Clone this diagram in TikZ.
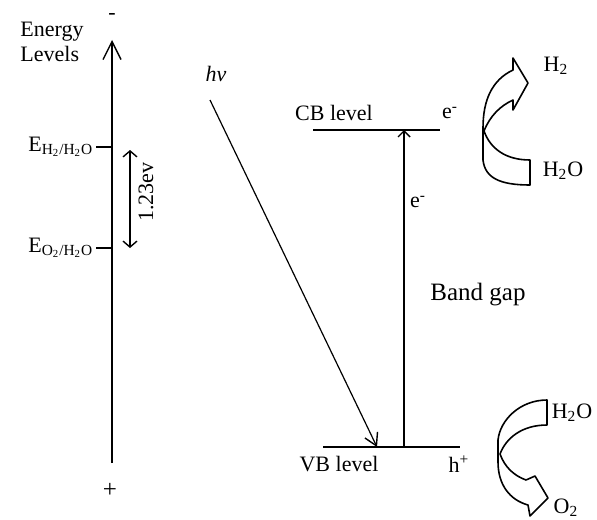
\documentclass[tikz,border=0pt]{standalone}
\usepackage{fontspec}
\setmainfont{Liberation Serif}
\usepackage{tikz}
\usetikzlibrary{arrows.meta,positioning}

\begin{document}
\begin{tikzpicture}[x=0.5pt,y=-0.5pt,line width=0.8pt,
  lbl/.style={font=\fontsize{11}{12.5}\selectfont,inner sep=1pt,align=left},
  big/.style={font=\fontsize{12.5}{14}\selectfont,inner sep=1pt},
  level/.style={line width=0.9pt},
  axarr/.style={-{Straight Barb[length=9pt,width=9pt,line width=0.7pt]}},
  arr/.style={-{Straight Barb[length=3pt,width=6pt,line width=0.7pt]}},
  photon/.style={-{Straight Barb[length=6pt,width=7pt,line width=0.7pt]},line width=0.6pt},
  blockarr/.style={draw,line width=0.8pt,fill=white,line join=round}]
\useasboundingbox (0,0) rectangle (597,519);
% energy axis
\coordinate (axbot) at (112,463);
\coordinate (axtop) at (112,40);
\draw[axarr] (axbot) -- (axtop);
\node[lbl] (minus) at (112,16) {-};
\node[big] (plus) at (110,490) {+};
\node[lbl,align=left] (enlev) at (52,42) {Energy\\Levels};
% redox potentials
\coordinate (eh) at (112,147);
\coordinate (eo) at (112,248);
\node[lbl,anchor=east] (ehlbl) at (96,147) {E\textsubscript{H\textsubscript{2}/H\textsubscript{2}O}};
\node[lbl,anchor=east] (eolbl) at (96,248) {E\textsubscript{O\textsubscript{2}/H\textsubscript{2}O}};
\draw (ehlbl.east) -- (eh);
\draw (eolbl.east) -- (eo);
\coordinate (gtop) at (130,150);
\coordinate (gbot) at (130,248);
\draw[{Straight Barb[length=3pt,width=7pt,line width=0.7pt]}-{Straight Barb[length=3pt,width=7pt,line width=0.7pt]}] (gtop) -- (gbot);
\node[lbl,rotate=90] (gap) at (146,192) {1.23ev};
% photon
\node[lbl] (hnu) at (216,74) {\textit{hν}};
\coordinate (hvstart) at (210,100);
\coordinate (vbhit) at (377,447);
\draw[photon] (hvstart) -- (vbhit);
% bands
\coordinate (cbl) at (313,130);
\coordinate (cbr) at (440,130);
\coordinate (vbl) at (323,447);
\coordinate (vbr) at (460,447);
\draw[level] (cbl) -- (cbr);
\draw[level] (vbl) -- (vbr);
\node[lbl] (cblbl) at (334,113) {CB level};
\node[lbl] (vblbl) at (339,464) {VB level};
\node[lbl] (ecb) at (450,113) {e\textsuperscript{-}};
\node[lbl] (hvb) at (459,464) {h\textsuperscript{+}};
\coordinate (exbot) at (404,447);
\coordinate (extop) at (404,130);
\draw[arr] (exbot) -- (extop);
\node[lbl] (ex) at (418,202) {e\textsuperscript{-}};
\node[big] (bandgap) at (478,295) {Band gap};
% reduction arrow
\draw[blockarr] (513,70) .. controls (492,80) and (483,100) .. (483,128)
  -- (483,160) .. controls (485,178) and (500,185) .. (530,185)
  -- (530,160) .. controls (505,160) and (490,148) .. (484,131)
  .. controls (490,116) and (500,106) .. (513,100)
  -- (513,110) -- (528,83) -- (513,58) -- cycle;
\node[lbl] (h2) at (556,66) {H\textsubscript{2}};
\node[lbl] (h2oa) at (563,171) {H\textsubscript{2}O};
% oxidation arrow
\draw[blockarr] (547,400) -- (547,425)
  .. controls (522,425) and (506,438) .. (500,454)
  .. controls (505,468) and (515,476) .. (526,480)
  -- (535,476) -- (548,498) -- (530,516) -- (528,505)
  .. controls (510,500) and (498,485) .. (498,462)
  -- (498,440) .. controls (500,420) and (520,400) .. (547,400) -- cycle;
\node[lbl] (h2ob) at (572,413) {H\textsubscript{2}O};
\node[lbl] (o2) at (566,508) {O\textsubscript{2}};
\end{tikzpicture}
\end{document}
